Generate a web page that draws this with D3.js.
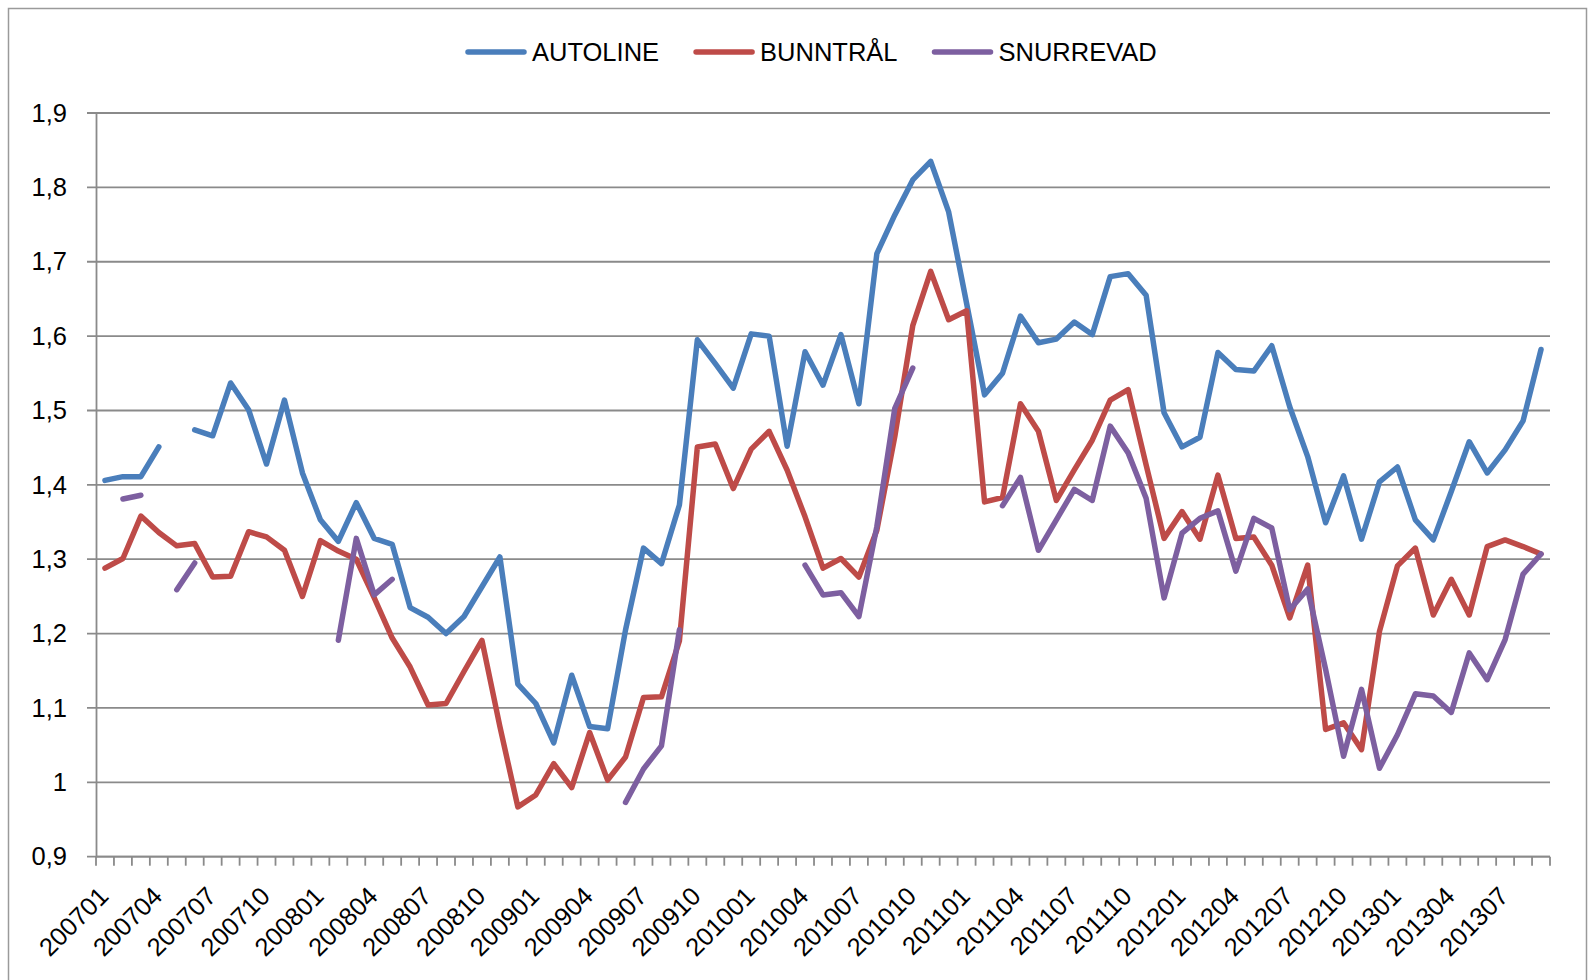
<!DOCTYPE html>
<html>
<head>
<meta charset="utf-8">
<script src="https://cdn.jsdelivr.net/npm/d3@7"></script>
<style>
    html, body { margin: 0; padding: 0; background: #fff; }
    svg { display: block; font-family: "Liberation Sans", Arial, sans-serif; }
</style>
</head>
<body>
<script>
// Months on the category axis
let categories = [
    "200701", "200702", "200703", "200704", "200705", "200706", "200707", "200708", "200709", "200710", "200711", "200712",
    "200801", "200802", "200803", "200804", "200805", "200806", "200807", "200808", "200809", "200810", "200811", "200812",
    "200901", "200902", "200903", "200904", "200905", "200906", "200907", "200908", "200909", "200910", "200911", "200912",
    "201001", "201002", "201003", "201004", "201005", "201006", "201007", "201008", "201009", "201010", "201011", "201012",
    "201101", "201102", "201103", "201104", "201105", "201106", "201107", "201108", "201109", "201110", "201111", "201112",
    "201201", "201202", "201203", "201204", "201205", "201206", "201207", "201208", "201209", "201210", "201211", "201212",
    "201301", "201302", "201303", "201304", "201305", "201306", "201307", "201308", "201309"
];

// Only every third month gets a label
let tickLabels = categories.filter((c, i) => i % 3 == 0);

let yTicks = [0.9, 1.0, 1.1, 1.2, 1.3, 1.4, 1.5, 1.6, 1.7, 1.8, 1.9];

let seriesNames = ["AUTOLINE", "BUNNTRÅL", "SNURREVAD"];

let autoline = [
    1.406, 1.411, 1.411, 1.451, null, 1.474, 1.466, 1.537, 1.501, 1.428, 1.514, 1.416,
    1.353, 1.324, 1.376, 1.328, 1.320, 1.235, 1.222, 1.200, 1.223, 1.263, 1.303, 1.132,
    1.106, 1.053, 1.144, 1.075, 1.072, 1.205, 1.315, 1.294, 1.373, 1.595, 1.563, 1.530,
    1.603, 1.600, 1.452, 1.579, 1.534, 1.602, 1.509, 1.711, 1.763, 1.810, 1.835, 1.767,
    1.644, 1.521, 1.550, 1.627, 1.591, 1.596, 1.619, 1.602, 1.680, 1.684, 1.655, 1.497,
    1.451, 1.464, 1.578, 1.555, 1.553, 1.587, 1.505, 1.438, 1.349, 1.412, 1.327, 1.404,
    1.424, 1.353, 1.326, 1.391, 1.458, 1.416, 1.447, 1.486, 1.582
];

let bunntral = [
    1.288, 1.301, 1.358, 1.336, 1.318, 1.321, 1.276, 1.277, 1.337, 1.330, 1.312, 1.250,
    1.325, 1.311, 1.300, 1.248, 1.194, 1.155, 1.104, 1.106, 1.149, 1.191, 1.075, 0.967,
    0.983, 1.025, 0.993, 1.067, 1.003, 1.034, 1.114, 1.115, 1.190, 1.451, 1.455, 1.395,
    1.448, 1.472, 1.420, 1.357, 1.288, 1.301, 1.276, 1.339, 1.465, 1.614, 1.687, 1.622,
    1.634, 1.377, 1.383, 1.509, 1.472, 1.379, 1.420, 1.460, 1.514, 1.528, 1.427, 1.328,
    1.364, 1.327, 1.413, 1.328, 1.330, 1.292, 1.221, 1.292, 1.071, 1.080, 1.044, 1.203,
    1.291, 1.315, 1.225, 1.273, 1.225, 1.317, 1.326, 1.317, 1.307
];

let snurrevad = [
    null, 1.381, 1.386, null, 1.259, 1.295, null, null, null, null, null, null,
    null, 1.191, 1.328, 1.252, 1.273, null, null, null, null, null, null, null,
    null, null, null, null, null, 0.973, 1.018, 1.049, 1.205, null, null, null,
    null, null, null, 1.292, 1.252, 1.255, 1.223, 1.344, 1.503, 1.557, null, null,
    null, null, 1.372, 1.410, 1.312, 1.353, 1.394, 1.379, 1.479, 1.443, 1.382, 1.248,
    1.335, 1.355, 1.365, 1.284, 1.355, 1.342, 1.232, 1.260, 1.152, 1.035, 1.125, 1.019,
    1.064, 1.119, 1.116, 1.094, 1.174, 1.138, 1.192, 1.280, 1.307
];

let colors = ["#4A7EBB", "#BE4B48", "#7D5FA0"];

let series = seriesNames.map((name, k) => ({
    name: name,
    color: colors[k],
    values: [autoline, bunntral, snurrevad][k]
}));

// Plot area
let width = 1595, height = 980;
let plot = { left: 96, right: 1550, top: 113, bottom: 856.7 };

let x = d3.scalePoint()
    .domain(categories)
    .range([plot.left, plot.right])
    .padding(0.5);

let y = d3.scaleLinear()
    .domain([0.9, 1.9])
    .range([plot.bottom, plot.top]);

let fmt = v => String(Math.round(v * 10) / 10).replace(".", ",");

let svg = d3.select("body")
    .append("svg")
    .attr("width", width)
    .attr("height", height);

// Chart border
svg.append("path")
    .attr("d", `M8.5,${height + 5}V8.5H1586.5V${height + 5}`)
    .attr("fill", "none")
    .attr("stroke", "#9a9a9a")
    .attr("stroke-width", 1.5);

// Gridlines
svg.append("g")
    .selectAll("line")
    .data(yTicks)
    .enter()
    .append("line")
    .attr("x1", plot.left - 9)
    .attr("x2", plot.right)
    .attr("y1", d => y(d))
    .attr("y2", d => y(d))
    .attr("stroke", "#8a8a8a")
    .attr("stroke-width", 1.8);

// Y axis
let yAxis = svg.append("g")
    .attr("transform", `translate(${plot.left},0)`)
    .call(d3.axisLeft(y).tickValues(yTicks).tickFormat(fmt).tickSize(0).tickPadding(29));

yAxis.select(".domain")
    .attr("stroke", "#8a8a8a")
    .attr("stroke-width", 1.8);

yAxis.selectAll("text")
    .attr("font-size", 25.5)
    .attr("font-family", "Liberation Sans, Arial, sans-serif")
    .attr("fill", "#000");

// X axis: ticks sit between the months
let step = x.step();
let boundaries = d3.range(categories.length + 1).map(i => plot.left + i * step);

svg.append("line")
    .attr("x1", plot.left)
    .attr("x2", plot.right)
    .attr("y1", plot.bottom)
    .attr("y2", plot.bottom)
    .attr("stroke", "#8a8a8a")
    .attr("stroke-width", 1.8);

svg.append("g")
    .selectAll("line")
    .data(boundaries)
    .enter()
    .append("line")
    .attr("x1", d => d)
    .attr("x2", d => d)
    .attr("y1", plot.bottom)
    .attr("y2", plot.bottom + 9)
    .attr("stroke", "#8a8a8a")
    .attr("stroke-width", 1.8);

svg.append("g")
    .selectAll("text")
    .data(tickLabels)
    .enter()
    .append("text")
    .attr("transform", d => `translate(${x(d) + 5},${plot.bottom + 41}) rotate(-45)`)
    .attr("text-anchor", "end")
    .attr("font-size", 25.5)
    .attr("fill", "#000")
    .text(d => d);

// Series lines
let line = d3.line()
    .defined(d => d != null)
    .x((d, i) => x(categories[i]))
    .y(d => y(d));

svg.append("g")
    .selectAll("path")
    .data(series)
    .enter()
    .append("path")
    .attr("d", d => line(d.values))
    .attr("fill", "none")
    .attr("stroke", d => d.color)
    .attr("stroke-width", 5.5)
    .attr("stroke-linejoin", "round")
    .attr("stroke-linecap", "round");

// Legend
let legend = svg.append("g")
    .attr("transform", "translate(468,52)");

let lx = 0;
series.forEach(s => {
    legend.append("line")
        .attr("x1", lx)
        .attr("x2", lx + 56)
        .attr("stroke", s.color)
        .attr("stroke-width", 5.5)
        .attr("stroke-linecap", "round");
    let t = legend.append("text")
        .attr("x", lx + 64)
        .attr("y", 9)
        .attr("font-size", 25.5)
        .attr("fill", "#000")
        .text(s.name);
    lx += 64 + t.node().getComputedTextLength() + 37;
});
</script>
</body>
</html>
